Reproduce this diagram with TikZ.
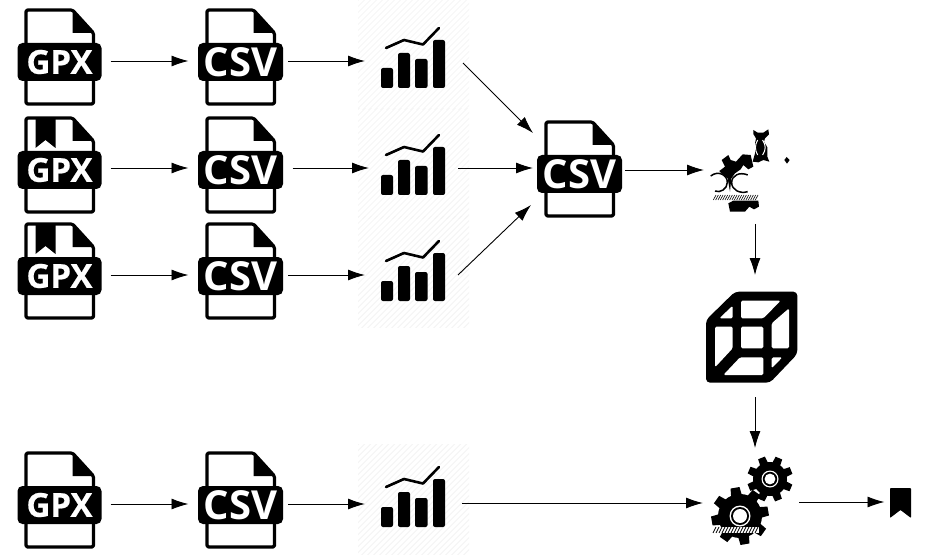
\documentclass[tikz,border=0pt]{standalone}
\usepackage{fontspec}
\setmainfont{Open Sans}
\usetikzlibrary{arrows.meta}
\definecolor{hatchc}{gray}{0.95}
\newcommand{\gearshape}[5]{% cx cy outer root rot
 \begin{scope}[shift={(#1,#2)},rotate=#5]
  \fill circle (#4);
  \foreach \a in {0,45,...,315}{
   \fill (\a-15:#4-1) -- (\a-9:#3) -- (\a+9:#3) -- (\a+15:#4-1) -- cycle;}
 \end{scope}}
\tikzset{
 x=1pt,y=-1pt,
 line width=1pt,
 flow/.style={draw=black,line width=0.9pt,-{Latex[length=17pt,width=11pt]}},
 anchorbox/.style={inner sep=0pt,outer sep=0pt,minimum width=#1,minimum height=40pt},
 filebody/.style={draw=black,fill=white,line width=3.2pt,rounded corners=1.5pt,line join=round},
 gpxlabel/.style={text=white,font=\bfseries\fontsize{33}{33}\selectfont\addfontfeature{FakeBold=0.6},inner sep=0pt},
 gpxfile/.pic={
  \draw[filebody] (-33.5,-52) -- (13,-52) -- (34,-29) -- (34,42) -- (-33.5,42) -- cycle;
  \fill (13,-52) -- (34,-29) -- (13,-29) -- cycle;
  \fill[rounded corners=5pt] (-42,-19) rectangle (42,19);
  \node[anchorbox=102pt] (-b) at (0,0) {};
  \node[gpxlabel] (-t) at (0,0) {GPX};
 },
 markedfile/.pic={
  \draw[filebody] (-33.5,-52) -- (13,-52) -- (34,-29) -- (34,42) -- (-33.5,42) -- cycle;
  \fill (13,-52) -- (34,-29) -- (13,-29) -- cycle;
  \fill (-24,-52) -- (-4,-52) -- (-4,-22) -- (-14,-30) -- (-24,-22) -- cycle;
  \fill[rounded corners=5pt] (-42,-19) rectangle (42,19);
  \node[anchorbox=102pt] (-b) at (0,0) {};
  \node[gpxlabel] (-t) at (0,0) {GPX};
 },
 csvfile/.pic={
  \draw[filebody] (-33.5,-52) -- (13,-52) -- (34,-29) -- (34,42) -- (-33.5,42) -- cycle;
  \fill (13,-52) -- (34,-29) -- (13,-29) -- cycle;
  \fill[rounded corners=5pt] (-42.5,-19) rectangle (42.5,19);
  \node[anchorbox=104pt] (-b) at (0,0) {};
  \node[text=white,font=\bfseries\fontsize{40}{40}\selectfont,inner sep=0pt] (-t) at (0,0) {CSV};
 },
 panelbg/.pic={
  \begin{scope}
   \clip (-55.5,-55) rectangle (55.5,55);
   \foreach \k in {-110,-104,...,110}{\draw[hatchc,line width=0.7pt] (\k-60,60) -- (\k+60,-60);}
  \end{scope}
 },
 barchart/.pic={
  \fill[rounded corners=2pt] (-32.5,13) rectangle (-20.5,33);
  \fill[rounded corners=2pt] (-15.5,-2) rectangle (-3.5,33);
  \fill[rounded corners=2pt] (1.5,4) rectangle (14,33);
  \fill[rounded corners=2pt] (19.5,-15) rectangle (31.5,33);
  \draw[line width=2.6pt,line cap=round,line join=round] (-27.5,-7) -- (-9.5,-15) -- (9.5,-10.5) -- (25.5,-27);
  \node[anchorbox=93pt] (-b) at (0,0) {};
 },
}
\begin{document}
\begin{tikzpicture}
\useasboundingbox (0,0) rectangle (945,556);
\fill[white] (0,0) rectangle (945,556);
\pic at (413.5,55) {panelbg};
\pic at (413.5,164) {panelbg};
\pic at (413.5,272) {panelbg};
\pic at (413.5,499) {panelbg};
\pic (g1) at (59.5,62) {gpxfile};
\pic (g2) at (59.5,170) {markedfile};
\pic (g3) at (59.5,276) {markedfile};
\pic (g4) at (59.5,505) {gpxfile};
\pic (c1) at (240.5,62) {csvfile};
\pic (c2) at (240.5,170) {csvfile};
\pic (c3) at (240.5,276) {csvfile};
\pic (c4) at (240.5,505) {csvfile};
\pic (p1) at (413.5,55) {barchart};
\pic (p2) at (413.5,162) {barchart};
\pic (p3) at (413.5,268) {barchart};
\pic (p4) at (413.5,494) {barchart};
\pic (cm) at (579.5,174) {csvfile};
% damaged gears
\node[inner sep=0pt,outer sep=0pt,minimum width=102pt,minimum height=100pt] (dg) at (755,174) {};
\begin{scope}[shift={(680,110)},scale=1/3]
 \fill (220,60) -- (233,68) -- (250,68) -- (265,58) -- (267,73) -- (255,85) -- (252,95) -- (262,112) -- (262,140) -- (268,155) -- (250,150) -- (235,157) -- (218,155) -- (225,130) -- (225,100) -- (228,85) -- (220,72) -- cycle;
 \draw[white,line width=1pt] (233,90) .. controls (224,105) and (224,120) .. (233,135);
 \draw[white,line width=1pt] (248,90) .. controls (258,105) and (258,120) .. (248,135);
 \fill (320,141) -- (329,150) -- (321,161) -- (313,150) -- cycle;
 \fill (125,150) -- (145,135) -- (152,150) -- (168,155) -- (188,133) -- (212,135) -- (220,170) -- (205,178) -- (190,165) -- (182,178) -- (165,190) -- (154,205) -- (150,245) -- (143,205) -- (122,188) -- (118,183) -- (135,170) -- cycle;
 \draw[line width=1.5pt] (92,198) .. controls (115,180) and (142,195) .. (142,217) .. controls (142,237) and (120,250) .. (105,243);
 \draw[line width=1.5pt] (203,195) .. controls (180,185) and (155,195) .. (155,218) .. controls (155,240) and (180,252) .. (203,245);
 \foreach \k in {100,107,...,230}{\draw[line width=0.6pt] (\k,270) -- (\k+8,255);}
 \fill (145,280) -- (160,272) -- (235,272) -- (237,290) -- (222,298) -- (208,290) -- (195,305) -- (150,305) -- cycle;
\end{scope}
% cube
\node[inner sep=0pt,outer sep=0pt,minimum width=92pt,minimum height=122pt] (cube) at (751.5,336) {};
\begin{scope}[shift={(680,280)},scale=1/3]
 \fill[rounded corners=4pt] (165,35) -- (352,35) -- (352,222) -- (270,308) -- (78,308) -- (78,120) -- cycle;
 \fill[white,rounded corners=1.5pt] (118,115) -- (158,77) -- (158,115) -- cycle;
 \fill[white,rounded corners=1.5pt] (183,62) -- (302,62) -- (250,115) -- (183,115) -- cycle;
 \fill[white,rounded corners=1.5pt] (275,130) -- (327,85) -- (327,205) -- (275,205) -- cycle;
 \fill[white,rounded corners=1.5pt] (183,140) -- (250,140) -- (250,205) -- (183,205) -- cycle;
 \fill[white,rounded corners=1.5pt] (105,140) -- (158,140) -- (158,205) -- (105,262) -- cycle;
 \fill[white,rounded corners=1.5pt] (130,285) -- (180,232) -- (250,232) -- (250,285) -- cycle;
 \fill[white,rounded corners=1.5pt] (275,232) -- (307,232) -- (275,265) -- cycle;
\end{scope}
% gears
\node[inner sep=0pt,outer sep=0pt,minimum width=96pt,minimum height=110pt] (gears) at (751,503) {};
\gearshape{770}{479}{23}{17}{22}
\gearshape{740}{516}{29}{22}{10}
\fill[white] (740,516) circle (10.5); \fill (740,516) circle (9); \fill[white] (740,516) circle (7);
\fill[white] (770,479) circle (8.5); \fill (770,479) circle (7.2); \fill[white] (770,479) circle (5.4);
\fill[white] (712,527) rectangle (759,533);
\foreach \k in {713,716,...,756}{\draw[line width=0.7pt] (\k,533) -- (\k+3,527);}
% bookmark
\node[inner sep=0pt,outer sep=0pt,minimum width=32pt,minimum height=32pt] (mark) at (900.5,502) {};
\fill[rounded corners=0.8pt] (890,488) -- (911,488) -- (911,518) -- (900.5,510) -- (890,518) -- cycle;
% connectors
\coordinate (r1) at (0,61); \coordinate (r2) at (0,168); \coordinate (r3) at (0,275); \coordinate (r4) at (0,504);
\coordinate (r5) at (0,170); \coordinate (r6) at (0,503); \coordinate (r7) at (0,502);
\draw[flow] (g1-b.east |- r1) -- (c1-b.west |- r1);
\draw[flow] (g2-b.east |- r2) -- (c2-b.west |- r2);
\draw[flow] (g3-b.east |- r3) -- (c3-b.west |- r3);
\draw[flow] (g4-b.east |- r4) -- (c4-b.west |- r4);
\draw[flow] ([xshift=-4.5pt]c1-b.east |- r1) -- ([xshift=-2pt]p1-b.west |- r1);
\draw[flow] (c2-b.east |- r2) -- ([xshift=2pt]p2-b.west |- r2);
\draw[flow] ([xshift=-4.5pt]c3-b.east |- r3) -- ([xshift=-2pt]p3-b.west |- r3);
\draw[flow] ([xshift=-4.5pt]c4-b.east |- r4) -- ([xshift=-2pt]p4-b.west |- r4);
\draw[flow] ([shift={(3pt,-8pt)}]p1-b.east) -- ([shift={(5.5pt,41pt)}]cm-b.west);
\draw[flow] ([xshift=-2pt]p2-b.east |- r2) -- ([xshift=5.5pt]cm-b.west |- r2);
\draw[flow] ([xshift=-2pt]p3-b.east |- r3) -- ([shift={(3.5pt,-31pt)}]cm-b.west);
\draw[flow] ([xshift=-6.5pt]cm-b.east |- r5) -- (dg.west |- r5);
\draw[flow] (dg.south) -- (dg.center |- cube.north);
\draw[flow] (dg.center |- cube.south) -- (dg.center |- gears.north);
\draw[flow] ([xshift=2pt]p4-b.east |- r6) -- (gears.west |- r6);
\draw[flow] (gears.east |- r7) -- (mark.west |- r7);
\end{tikzpicture}
\end{document}
